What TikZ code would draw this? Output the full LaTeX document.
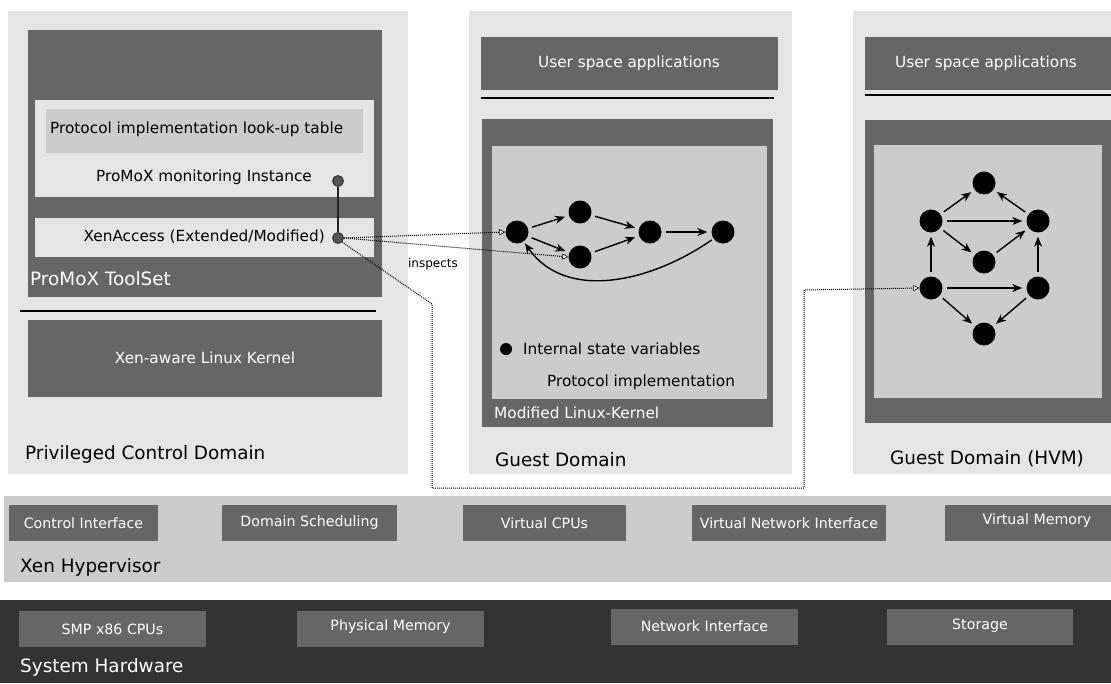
\documentclass[tikz,border=0pt]{standalone}
\usepackage{fontspec}
\setmainfont{DejaVu Sans}
\usetikzlibrary{arrows.meta}
\definecolor{cLight}{HTML}{E5E5E5}
\definecolor{cMid}{HTML}{CCCCCC}
\definecolor{cDark}{HTML}{666666}
\definecolor{cDarker}{HTML}{333333}
\definecolor{cDot}{HTML}{555555}
\tikzset{
  fs/.style={font=\fontsize{#1}{#1}\selectfont},
  lbl/.style={inner sep=0pt, anchor=west},
  wlbl/.style={lbl, text=white},
  svar/.style={circle, fill=black, minimum size=23pt, inner sep=0pt},
  sdot/.style={circle, fill=cDot, draw=black!85, line width=0.8pt, minimum size=11pt, inner sep=0pt},
  garr/.style={line width=1.4pt, -{Stealth[length=10pt,width=8pt,inset=3pt]}, shorten >=4pt, shorten <=4pt},
  insp/.style={densely dotted, line width=1pt, -{Triangle[length=6pt,width=6pt,fill=white,line width=0.6pt]}},
  sep/.style={line width=1.4pt, black},
  hwl/.style={fs=14.2, text=white, inner sep=0pt},
}
\begin{document}
\begin{tikzpicture}[x=1pt,y=-1pt]
\useasboundingbox (0,0) rectangle (1111,683);
\fill[white] (0,0) rectangle (1111,683);
% ---------- Privileged Control Domain ----------
\fill[cLight] (8,11) rectangle (408,474);
\fill[cDark] (28,30) rectangle (382,297);
\fill[cLight] (35,100) rectangle (374,197);
\fill[cMid] (46,109) rectangle (363,153);
\node[lbl, fs=15.3] (lut) at (50,129) {Protocol implementation look-up table};
\node[fs=15.3, inner sep=0pt] (mon) at (204,177) {ProMoX monitoring Instance};
\fill[cLight] (35,218) rectangle (374,257);
\node[fs=15.3, inner sep=0pt, anchor=east] (xa) at (325,237) {XenAccess (Extended/Modified)};
\node[wlbl, fs=18.4] (tool) at (30,279) {ProMoX ToolSet};
\draw[sep] (20,311) -- (376,311);
\fill[cDark] (28,320) rectangle (382,397);
\node[fs=15.3, text=white, inner sep=0pt] (xk) at (205,358) {Xen-aware Linux Kernel};
\node[lbl, fs=18.4] (pcd) at (25,454) {Privileged Control Domain};
\node[sdot] (p1) at (338,181) {};
\node[sdot] (p2) at (338,238) {};
% ---------- Guest Domain ----------
\fill[cLight] (469,11) rectangle (792,474);
\fill[cDark] (481,37) rectangle (778,90);
\node[fs=15.3, text=white, inner sep=0pt] (usa1) at (629,63) {User space applications};
\draw[sep] (481,98) -- (774,98);
\fill[cDark] (482,119) rectangle (773,427);
\fill[cMid] (492,146) rectangle (767,399);
\node[wlbl, fs=15.3] (mlk) at (494,413) {Modified Linux-Kernel};
\node[lbl, fs=18.4] (gd) at (495,460) {Guest Domain};
\node[circle, fill=black, minimum size=12pt, inner sep=0pt] (leg) at (506,349) {};
\node[lbl, fs=15.3] (legt) at (523,349) {Internal state variables};
\node[lbl, fs=15.3] (pi) at (547,382) {Protocol implementation};
\node[svar] (n1) at (517,232) {};
\node[svar] (n2) at (580,212) {};
\node[svar] (n3) at (580,257) {};
\node[svar] (n4) at (650,232) {};
\node[svar] (n5) at (723,232) {};
\draw[garr] (n1) -- (n2);
\draw[garr] (n1) -- (n3);
\draw[garr] (n2) -- (n4);
\draw[garr] (n3) -- (n4);
\draw[garr] (n4) -- (n5);
\draw[garr, shorten <=2pt, shorten >=2pt] (n5) to[out=215, in=-55] (n1);
% ---------- Guest Domain (HVM) ----------
\fill[cLight] (853,11) rectangle (1111,474);
\fill[cDark] (865,37) rectangle (1111,90);
\node[fs=15.3, text=white, inner sep=0pt] (usa2) at (986,63) {User space applications};
\draw[sep] (865,95) -- (1111,95);
\fill[cDark] (865,120) rectangle (1111,423);
\fill[cMid] (874,145) rectangle (1102,398);
\node[fs=18.4, inner sep=0pt] (gdh) at (987,459) {Guest Domain (HVM)};
\node[svar] (ha) at (984,183) {};
\node[svar] (hb) at (931,221) {};
\node[svar] (hc) at (1038,221) {};
\node[svar] (hd) at (984,262) {};
\node[svar] (he) at (931,288) {};
\node[svar] (hf) at (1038,288) {};
\node[svar] (hg) at (984,334) {};
\draw[garr] (hb) -- (ha);
\draw[garr] (hc) -- (ha);
\draw[garr] (hb) -- (hc);
\draw[garr] (hb) -- (hd);
\draw[garr] (hd) -- (hc);
\draw[garr] (he) -- (hb);
\draw[garr] (hf) -- (hc);
\draw[garr] (he) -- (hf);
\draw[garr] (he) -- (hg);
\draw[garr] (hf) -- (hg);
% ---------- connectors ----------
\draw[line width=1.6pt, black!85] (p1) -- (p2);
\draw[insp] (p2.east) -- (n1.west);
\draw[insp] (p2.east) -- (n3.west);
\node[fs=12, inner sep=0pt] (ins) at (433,264) {inspects};
\coordinate (k1) at (432,304);
\coordinate (k2) at (432,488);
\coordinate (k3) at (804,488);
\coordinate (k4) at (804,290);
\draw[insp] (p2.south east) -- (k1) -- (k2) -- (k3) -- (k4) -- (he.west);
% ---------- Xen Hypervisor ----------
\fill[cMid] (4,496) rectangle (1111,582);
\fill[cDark] (9,505) rectangle (158,541);
\node[hwl] (ci) at (83.5,523) {Control Interface};
\fill[cDark] (222,505) rectangle (397,541);
\node[hwl] (ds) at (309.5,523) {Domain Scheduling};
\fill[cDark] (463,505) rectangle (626,541);
\node[hwl] (vc) at (544.5,523) {Virtual CPUs};
\fill[cDark] (692,505) rectangle (886,541);
\node[hwl] (vn) at (789,523) {Virtual Network Interface};
\fill[cDark] (945,505) rectangle (1111,541);
\node[hwl] (vm) at (1037,521) {Virtual Memory};
\node[lbl, fs=18.4] (xh) at (20,567) {Xen Hypervisor};
% ---------- System Hardware ----------
\fill[cDarker] (0,600) rectangle (1111,683);
\fill[cDark] (19,611) rectangle (206,647);
\node[hwl] (smp) at (112.5,629) {SMP x86 CPUs};
\fill[cDark] (297,611) rectangle (484,647);
\node[hwl] (pm) at (390.5,627) {Physical Memory};
\fill[cDark] (611,609) rectangle (798,645);
\node[hwl] (ni) at (704.5,626) {Network Interface};
\fill[cDark] (887,609) rectangle (1073,645);
\node[hwl] (st) at (980,626) {Storage};
\node[wlbl, fs=18.4] (sh) at (20,667) {System Hardware};
\end{tikzpicture}
\end{document}
